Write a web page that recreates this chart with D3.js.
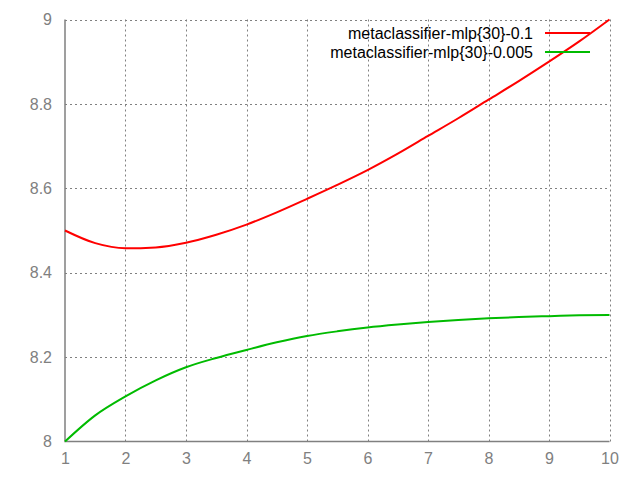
<!DOCTYPE html>
<html><head><meta charset="utf-8">
<script src="https://cdn.jsdelivr.net/npm/d3@7"></script>
<style>body{margin:0;background:#fff}</style>
</head><body>
<svg id="c" width="640" height="480"></svg>
<script>
const xs = [1, 1.5, 2, 2.5, 3, 3.5, 4, 4.5, 5, 5.5, 6, 6.5, 7, 7.5, 8, 8.5, 9, 9.5, 10];
const red = [8.500, 8.470, 8.458, 8.460, 8.471, 8.490, 8.514, 8.543, 8.575, 8.608, 8.643, 8.682, 8.724, 8.766, 8.810, 8.854, 8.900, 8.948, 9.000];
const green = [8.000, 8.062, 8.107, 8.145, 8.176, 8.198, 8.217, 8.235, 8.250, 8.261, 8.270, 8.277, 8.283, 8.288, 8.292, 8.295, 8.297, 8.299, 8.300];
const seriesNames = ["metaclassifier-mlp{30}-0.1", "metaclassifier-mlp{30}-0.005"];
const seriesColors = ["#ff0000", "#00bb00"];
const xTicks = [1,2,3,4,5,6,7,8,9,10];
const yTicks = [8, 8.2, 8.4, 8.6, 8.8, 9];

const svg = d3.select("#c");
const L = 65, R = 609.5, T = 19.5, B = 441.5;
const x = d3.scaleLinear().domain([1,10]).range([L,R]);
const y = d3.scaleLinear().domain([8,9]).range([B,T]);
const font = "'Liberation Sans', Arial, sans-serif";

// grid
const g = svg.append("g").attr("stroke","#808080").attr("stroke-width",1).attr("stroke-dasharray","2,3");
g.selectAll(".gx").data(xTicks.slice(1)).enter().append("line")
  .attr("x1",d=>Math.round(x(d))+0.5).attr("x2",d=>Math.round(x(d))+0.5).attr("y1",B).attr("y2",T);
g.selectAll(".gy").data(yTicks.slice(1)).enter().append("line")
  .attr("y1",d=>Math.round(y(d))+0.5).attr("y2",d=>Math.round(y(d))+0.5).attr("x1",L).attr("x2",R);

// axes
const xAxis = d3.axisBottom(x).tickValues(xTicks).tickSize(0).tickPadding(11).tickFormat(d3.format("d"));
const yAxis = d3.axisLeft(y).tickValues(yTicks).tickSize(0).tickPadding(13).tickFormat(d=>d3.format("")(+d.toFixed(1)));
const gx = svg.append("g").attr("transform",`translate(0,${B})`).call(xAxis);
const gy = svg.append("g").attr("transform",`translate(${L},0)`).call(yAxis);
[gx,gy].forEach(a=>{
  a.select(".domain").remove();
  a.selectAll("text").attr("fill","#808080").style("font-family",font).style("font-size","16px");
});
svg.append("path").attr("d",`M${L},${T}V${B}H${R}`).attr("fill","none").attr("stroke","#808080").attr("stroke-width",1.5);

// lines
const line = d3.line().x((d,i)=>x(xs[i])).y(d=>y(d)).curve(d3.curveMonotoneX);
[red, green].forEach((s,i)=>{
  svg.append("path").datum(s).attr("d",line).attr("fill","none")
    .attr("stroke",seriesColors[i]).attr("stroke-width",2);
});

// legend
seriesNames.forEach((n,i)=>{
  const yy = 33 + i*19;
  svg.append("text").attr("x",533).attr("y",yy+5.5).attr("text-anchor","end")
    .style("font-family",font).style("font-size","16px").attr("fill","#000").text(n);
  svg.append("line").attr("x1",545).attr("x2",590).attr("y1",yy).attr("y2",yy)
    .attr("stroke",seriesColors[i]).attr("stroke-width",2);
});
</script>
</body></html>
